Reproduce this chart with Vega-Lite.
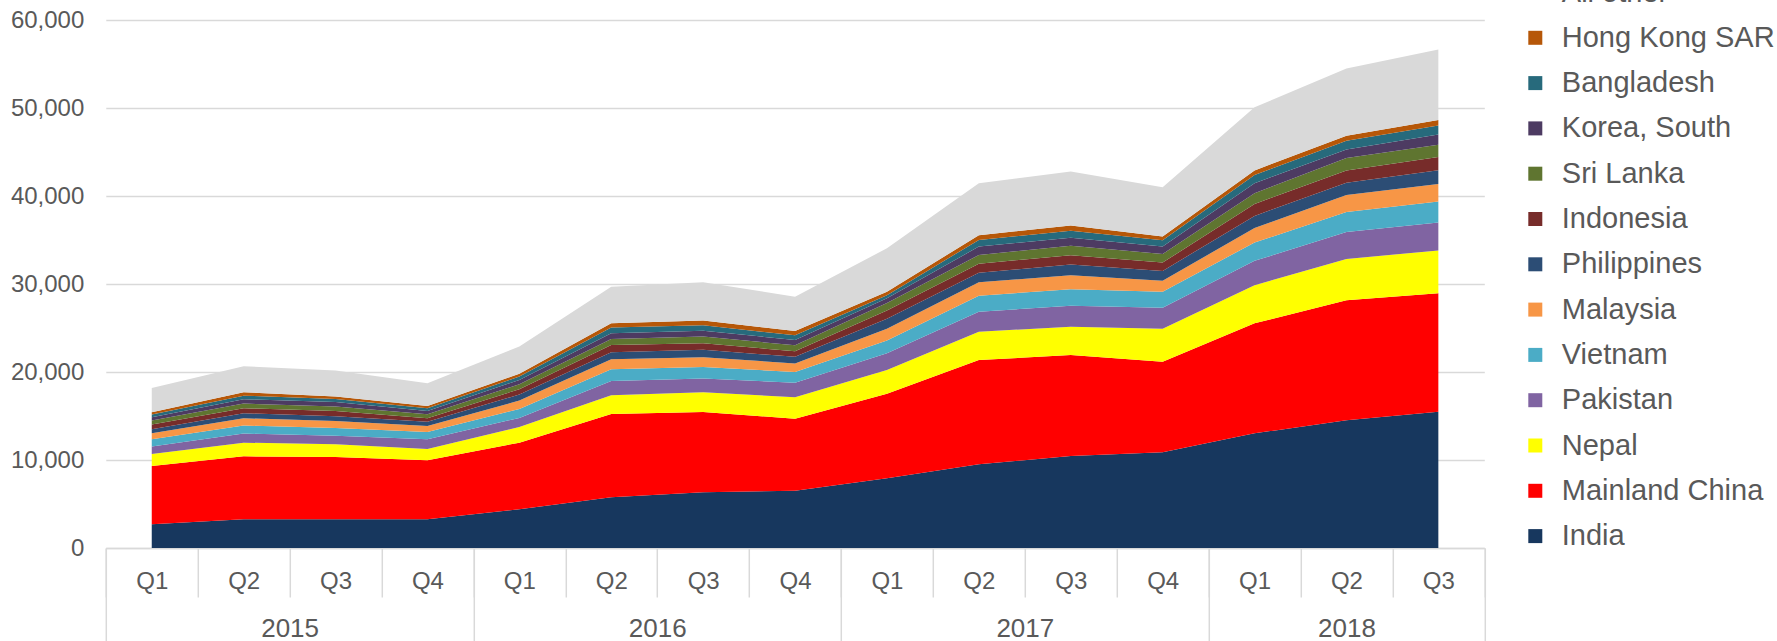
{
  "$schema": "https://vega.github.io/schema/vega-lite/v6.json",
  "width": 1378.5,
  "height": 528,
  "autosize": {"type": "none"},
  "padding": {"left": 105.8, "top": 20, "right": 292.7, "bottom": 93},
  "background": "white",
  "config": {"view": {"stroke": null}, "font": "Liberation Sans"},
  "datasets": {
    "arrivals": [
      {"year":2015,"quarter":1,"country":"India","value":2700},
      {"year":2015,"quarter":2,"country":"India","value":3260},
      {"year":2015,"quarter":3,"country":"India","value":3270},
      {"year":2015,"quarter":4,"country":"India","value":3260},
      {"year":2016,"quarter":1,"country":"India","value":4400},
      {"year":2016,"quarter":2,"country":"India","value":5760},
      {"year":2016,"quarter":3,"country":"India","value":6330},
      {"year":2016,"quarter":4,"country":"India","value":6510},
      {"year":2017,"quarter":1,"country":"India","value":7930},
      {"year":2017,"quarter":2,"country":"India","value":9510},
      {"year":2017,"quarter":3,"country":"India","value":10450},
      {"year":2017,"quarter":4,"country":"India","value":10870},
      {"year":2018,"quarter":1,"country":"India","value":13030},
      {"year":2018,"quarter":2,"country":"India","value":14510},
      {"year":2018,"quarter":3,"country":"India","value":15480},
      {"year":2015,"quarter":1,"country":"Mainland China","value":6620},
      {"year":2015,"quarter":2,"country":"Mainland China","value":7160},
      {"year":2015,"quarter":3,"country":"Mainland China","value":7070},
      {"year":2015,"quarter":4,"country":"Mainland China","value":6700},
      {"year":2016,"quarter":1,"country":"Mainland China","value":7570},
      {"year":2016,"quarter":2,"country":"Mainland China","value":9460},
      {"year":2016,"quarter":3,"country":"Mainland China","value":9130},
      {"year":2016,"quarter":4,"country":"Mainland China","value":8180},
      {"year":2017,"quarter":1,"country":"Mainland China","value":9600},
      {"year":2017,"quarter":2,"country":"Mainland China","value":11850},
      {"year":2017,"quarter":3,"country":"Mainland China","value":11480},
      {"year":2017,"quarter":4,"country":"Mainland China","value":10300},
      {"year":2018,"quarter":1,"country":"Mainland China","value":12500},
      {"year":2018,"quarter":2,"country":"Mainland China","value":13650},
      {"year":2018,"quarter":3,"country":"Mainland China","value":13470},
      {"year":2015,"quarter":1,"country":"Nepal","value":1370},
      {"year":2015,"quarter":2,"country":"Nepal","value":1550},
      {"year":2015,"quarter":3,"country":"Nepal","value":1440},
      {"year":2015,"quarter":4,"country":"Nepal","value":1290},
      {"year":2016,"quarter":1,"country":"Nepal","value":1780},
      {"year":2016,"quarter":2,"country":"Nepal","value":2130},
      {"year":2016,"quarter":3,"country":"Nepal","value":2240},
      {"year":2016,"quarter":4,"country":"Nepal","value":2430},
      {"year":2017,"quarter":1,"country":"Nepal","value":2690},
      {"year":2017,"quarter":2,"country":"Nepal","value":3220},
      {"year":2017,"quarter":3,"country":"Nepal","value":3220},
      {"year":2017,"quarter":4,"country":"Nepal","value":3750},
      {"year":2018,"quarter":1,"country":"Nepal","value":4330},
      {"year":2018,"quarter":2,"country":"Nepal","value":4690},
      {"year":2018,"quarter":3,"country":"Nepal","value":4860},
      {"year":2015,"quarter":1,"country":"Pakistan","value":830},
      {"year":2015,"quarter":2,"country":"Pakistan","value":1030},
      {"year":2015,"quarter":3,"country":"Pakistan","value":980},
      {"year":2015,"quarter":4,"country":"Pakistan","value":1100},
      {"year":2016,"quarter":1,"country":"Pakistan","value":1030},
      {"year":2016,"quarter":2,"country":"Pakistan","value":1630},
      {"year":2016,"quarter":3,"country":"Pakistan","value":1550},
      {"year":2016,"quarter":4,"country":"Pakistan","value":1660},
      {"year":2017,"quarter":1,"country":"Pakistan","value":1910},
      {"year":2017,"quarter":2,"country":"Pakistan","value":2270},
      {"year":2017,"quarter":3,"country":"Pakistan","value":2390},
      {"year":2017,"quarter":4,"country":"Pakistan","value":2390},
      {"year":2018,"quarter":1,"country":"Pakistan","value":2770},
      {"year":2018,"quarter":2,"country":"Pakistan","value":3060},
      {"year":2018,"quarter":3,"country":"Pakistan","value":3170},
      {"year":2015,"quarter":1,"country":"Vietnam","value":840},
      {"year":2015,"quarter":2,"country":"Vietnam","value":910},
      {"year":2015,"quarter":3,"country":"Vietnam","value":870},
      {"year":2015,"quarter":4,"country":"Vietnam","value":840},
      {"year":2016,"quarter":1,"country":"Vietnam","value":1020},
      {"year":2016,"quarter":2,"country":"Vietnam","value":1330},
      {"year":2016,"quarter":3,"country":"Vietnam","value":1330},
      {"year":2016,"quarter":4,"country":"Vietnam","value":1210},
      {"year":2017,"quarter":1,"country":"Vietnam","value":1460},
      {"year":2017,"quarter":2,"country":"Vietnam","value":1820},
      {"year":2017,"quarter":3,"country":"Vietnam","value":1870},
      {"year":2017,"quarter":4,"country":"Vietnam","value":1820},
      {"year":2018,"quarter":1,"country":"Vietnam","value":2080},
      {"year":2018,"quarter":2,"country":"Vietnam","value":2260},
      {"year":2018,"quarter":3,"country":"Vietnam","value":2390},
      {"year":2015,"quarter":1,"country":"Malaysia","value":690},
      {"year":2015,"quarter":2,"country":"Malaysia","value":830},
      {"year":2015,"quarter":3,"country":"Malaysia","value":800},
      {"year":2015,"quarter":4,"country":"Malaysia","value":680},
      {"year":2016,"quarter":1,"country":"Malaysia","value":950},
      {"year":2016,"quarter":2,"country":"Malaysia","value":1140},
      {"year":2016,"quarter":3,"country":"Malaysia","value":1110},
      {"year":2016,"quarter":4,"country":"Malaysia","value":990},
      {"year":2017,"quarter":1,"country":"Malaysia","value":1330},
      {"year":2017,"quarter":2,"country":"Malaysia","value":1520},
      {"year":2017,"quarter":3,"country":"Malaysia","value":1590},
      {"year":2017,"quarter":4,"country":"Malaysia","value":1250},
      {"year":2018,"quarter":1,"country":"Malaysia","value":1640},
      {"year":2018,"quarter":2,"country":"Malaysia","value":1950},
      {"year":2018,"quarter":3,"country":"Malaysia","value":1990},
      {"year":2015,"quarter":1,"country":"Philippines","value":450},
      {"year":2015,"quarter":2,"country":"Philippines","value":570},
      {"year":2015,"quarter":3,"country":"Philippines","value":530},
      {"year":2015,"quarter":4,"country":"Philippines","value":490},
      {"year":2016,"quarter":1,"country":"Philippines","value":680},
      {"year":2016,"quarter":2,"country":"Philippines","value":800},
      {"year":2016,"quarter":3,"country":"Philippines","value":830},
      {"year":2016,"quarter":4,"country":"Philippines","value":750},
      {"year":2017,"quarter":1,"country":"Philippines","value":1140},
      {"year":2017,"quarter":2,"country":"Philippines","value":1100},
      {"year":2017,"quarter":3,"country":"Philippines","value":1210},
      {"year":2017,"quarter":4,"country":"Philippines","value":1110},
      {"year":2018,"quarter":1,"country":"Philippines","value":1390},
      {"year":2018,"quarter":2,"country":"Philippines","value":1380},
      {"year":2018,"quarter":3,"country":"Philippines","value":1570},
      {"year":2015,"quarter":1,"country":"Indonesia","value":530},
      {"year":2015,"quarter":2,"country":"Indonesia","value":570},
      {"year":2015,"quarter":3,"country":"Indonesia","value":600},
      {"year":2015,"quarter":4,"country":"Indonesia","value":380},
      {"year":2016,"quarter":1,"country":"Indonesia","value":610},
      {"year":2016,"quarter":2,"country":"Indonesia","value":830},
      {"year":2016,"quarter":3,"country":"Indonesia","value":760},
      {"year":2016,"quarter":4,"country":"Indonesia","value":620},
      {"year":2017,"quarter":1,"country":"Indonesia","value":930},
      {"year":2017,"quarter":2,"country":"Indonesia","value":1020},
      {"year":2017,"quarter":3,"country":"Indonesia","value":1070},
      {"year":2017,"quarter":4,"country":"Indonesia","value":940},
      {"year":2018,"quarter":1,"country":"Indonesia","value":1350},
      {"year":2018,"quarter":2,"country":"Indonesia","value":1410},
      {"year":2018,"quarter":3,"country":"Indonesia","value":1490},
      {"year":2015,"quarter":1,"country":"Sri Lanka","value":450},
      {"year":2015,"quarter":2,"country":"Sri Lanka","value":530},
      {"year":2015,"quarter":3,"country":"Sri Lanka","value":530},
      {"year":2015,"quarter":4,"country":"Sri Lanka","value":460},
      {"year":2016,"quarter":1,"country":"Sri Lanka","value":570},
      {"year":2016,"quarter":2,"country":"Sri Lanka","value":680},
      {"year":2016,"quarter":3,"country":"Sri Lanka","value":760},
      {"year":2016,"quarter":4,"country":"Sri Lanka","value":680},
      {"year":2017,"quarter":1,"country":"Sri Lanka","value":840},
      {"year":2017,"quarter":2,"country":"Sri Lanka","value":990},
      {"year":2017,"quarter":3,"country":"Sri Lanka","value":1060},
      {"year":2017,"quarter":4,"country":"Sri Lanka","value":990},
      {"year":2018,"quarter":1,"country":"Sri Lanka","value":1220},
      {"year":2018,"quarter":2,"country":"Sri Lanka","value":1410},
      {"year":2018,"quarter":3,"country":"Sri Lanka","value":1400},
      {"year":2015,"quarter":1,"country":"Korea, South","value":390},
      {"year":2015,"quarter":2,"country":"Korea, South","value":490},
      {"year":2015,"quarter":3,"country":"Korea, South","value":500},
      {"year":2015,"quarter":4,"country":"Korea, South","value":370},
      {"year":2016,"quarter":1,"country":"Korea, South","value":490},
      {"year":2016,"quarter":2,"country":"Korea, South","value":650},
      {"year":2016,"quarter":3,"country":"Korea, South","value":650},
      {"year":2016,"quarter":4,"country":"Korea, South","value":610},
      {"year":2017,"quarter":1,"country":"Korea, South","value":550},
      {"year":2017,"quarter":2,"country":"Korea, South","value":950},
      {"year":2017,"quarter":3,"country":"Korea, South","value":910},
      {"year":2017,"quarter":4,"country":"Korea, South","value":830},
      {"year":2018,"quarter":1,"country":"Korea, South","value":1150},
      {"year":2018,"quarter":2,"country":"Korea, South","value":970},
      {"year":2018,"quarter":3,"country":"Korea, South","value":1170},
      {"year":2015,"quarter":1,"country":"Bangladesh","value":300},
      {"year":2015,"quarter":2,"country":"Bangladesh","value":410},
      {"year":2015,"quarter":3,"country":"Bangladesh","value":340},
      {"year":2015,"quarter":4,"country":"Bangladesh","value":310},
      {"year":2016,"quarter":1,"country":"Bangladesh","value":380},
      {"year":2016,"quarter":2,"country":"Bangladesh","value":640},
      {"year":2016,"quarter":3,"country":"Bangladesh","value":610},
      {"year":2016,"quarter":4,"country":"Bangladesh","value":530},
      {"year":2017,"quarter":1,"country":"Bangladesh","value":350},
      {"year":2017,"quarter":2,"country":"Bangladesh","value":760},
      {"year":2017,"quarter":3,"country":"Bangladesh","value":790},
      {"year":2017,"quarter":4,"country":"Bangladesh","value":730},
      {"year":2018,"quarter":1,"country":"Bangladesh","value":920},
      {"year":2018,"quarter":2,"country":"Bangladesh","value":980},
      {"year":2018,"quarter":3,"country":"Bangladesh","value":1030},
      {"year":2015,"quarter":1,"country":"Hong Kong SAR","value":270},
      {"year":2015,"quarter":2,"country":"Hong Kong SAR","value":380},
      {"year":2015,"quarter":3,"country":"Hong Kong SAR","value":300},
      {"year":2015,"quarter":4,"country":"Hong Kong SAR","value":260},
      {"year":2016,"quarter":1,"country":"Hong Kong SAR","value":310},
      {"year":2016,"quarter":2,"country":"Hong Kong SAR","value":500},
      {"year":2016,"quarter":3,"country":"Hong Kong SAR","value":540},
      {"year":2016,"quarter":4,"country":"Hong Kong SAR","value":490},
      {"year":2017,"quarter":1,"country":"Hong Kong SAR","value":390},
      {"year":2017,"quarter":2,"country":"Hong Kong SAR","value":530},
      {"year":2017,"quarter":3,"country":"Hong Kong SAR","value":610},
      {"year":2017,"quarter":4,"country":"Hong Kong SAR","value":410},
      {"year":2018,"quarter":1,"country":"Hong Kong SAR","value":530},
      {"year":2018,"quarter":2,"country":"Hong Kong SAR","value":590},
      {"year":2018,"quarter":3,"country":"Hong Kong SAR","value":620},
      {"year":2015,"quarter":1,"country":"All other","value":2730},
      {"year":2015,"quarter":2,"country":"All other","value":2960},
      {"year":2015,"quarter":3,"country":"All other","value":2950},
      {"year":2015,"quarter":4,"country":"All other","value":2580},
      {"year":2016,"quarter":1,"country":"All other","value":3100},
      {"year":2016,"quarter":2,"country":"All other","value":4130},
      {"year":2016,"quarter":3,"country":"All other","value":4350},
      {"year":2016,"quarter":4,"country":"All other","value":3900},
      {"year":2017,"quarter":1,"country":"All other","value":4940},
      {"year":2017,"quarter":2,"country":"All other","value":5910},
      {"year":2017,"quarter":3,"country":"All other","value":6140},
      {"year":2017,"quarter":4,"country":"All other","value":5610},
      {"year":2018,"quarter":1,"country":"All other","value":7170},
      {"year":2018,"quarter":2,"country":"All other","value":7620},
      {"year":2018,"quarter":3,"country":"All other","value":8020}
    ]
  },
  "data": {"name": "arrivals"},
  "transform": [
    {"calculate": "(datum.year - 2015) * 4 + datum.quarter - 1", "as": "idx"},
    {"calculate": "indexof(['All other','Hong Kong SAR','Bangladesh','Korea, South','Sri Lanka','Indonesia','Philippines','Malaysia','Vietnam','Pakistan','Nepal','Mainland China','India'], datum.country)", "as": "rank"}
  ],
  "layer": [
    {
      "mark": {"type": "area", "opacity": 1},
      "encoding": {
        "x": {
          "field": "idx", "type": "quantitative",
          "scale": {"domain": [-0.5, 14.5], "nice": false, "zero": false},
          "axis": {
            "orient": "bottom", "title": null, "values": [0,1,2,3,4,5,6,7,8,9,10,11,12,13,14],
            "labelExpr": "'Q' + (datum.value % 4 + 1)",
            "ticks": false, "grid": false, "domain": true,
            "domainColor": "#d9d9d9", "domainWidth": 1.5,
            "labelFontSize": 24, "labelColor": "#595959", "labelPadding": 21,
            "labelFlush": false, "labelOverlap": false, "labelBound": false
          }
        },
        "y": {
          "field": "value", "type": "quantitative", "stack": "zero",
          "scale": {"domain": [0, 60000], "nice": false},
          "axis": {
            "title": null, "values": [0,10000,20000,30000,40000,50000,60000],
            "format": ",.0f", "ticks": false, "domain": false,
            "grid": true, "gridColor": "#d9d9d9", "gridWidth": 1.5,
            "labelFontSize": 24, "labelColor": "#595959", "labelPadding": 22
          }
        },
        "color": {
          "field": "country", "type": "nominal",
          "scale": {
            "domain": ["All other","Hong Kong SAR","Bangladesh","Korea, South","Sri Lanka","Indonesia","Philippines","Malaysia","Vietnam","Pakistan","Nepal","Mainland China","India"],
            "range": ["#D9D9D9","#B65708","#276A7C","#4D3B62","#5F7530","#772C2A","#2C4D75","#F79646","#4BACC6","#8064A2","#FFFF00","#FF0000","#17375E"]
          },
          "legend": {
            "orient": "none", "legendX": 1415, "legendY": -42, "direction": "vertical",
            "title": null, "symbolType": "square", "symbolSize": 196, "symbolStrokeWidth": 0,
            "symbolOpacity": 1,
            "labelFontSize": 29, "labelColor": "#595959", "labelOffset": 12,
            "rowPadding": 15.3, "labelLimit": 400, "padding": 0
          }
        },
        "order": {"field": "rank", "type": "quantitative", "sort": "descending"}
      }
    },
    {
      "mark": {"type": "point", "opacity": 0},
      "encoding": {
        "x": {
          "field": "idx", "type": "quantitative",
          "scale": {"domain": [-0.5, 14.5], "nice": false, "zero": false},
          "axis": {
            "orient": "bottom", "title": null,
            "values": [-0.5,0.5,1.5,2.5,3.5,4.5,5.5,6.5,7.5,8.5,9.5,10.5,11.5,12.5,13.5,14.5],
            "labels": false, "domain": false, "grid": false,
            "ticks": true, "tickSize": 49, "tickColor": "#d9d9d9", "tickWidth": 1.5
          }
        }
      }
    },
    {
      "mark": {"type": "point", "opacity": 0},
      "encoding": {
        "x": {
          "field": "idx", "type": "quantitative",
          "scale": {"domain": [-0.5, 14.5], "nice": false, "zero": false},
          "axis": {
            "orient": "bottom", "title": null,
            "values": [-0.5,3.5,7.5,11.5,14.5],
            "labels": false, "domain": false, "grid": false,
            "ticks": true, "tickSize": 95, "tickColor": "#d9d9d9", "tickWidth": 1.5
          }
        }
      }
    },
    {
      "mark": {"type": "point", "opacity": 0},
      "encoding": {
        "x": {
          "field": "idx", "type": "quantitative",
          "scale": {"domain": [-0.5, 14.5], "nice": false, "zero": false},
          "axis": {
            "orient": "bottom", "title": null, "values": [1.5, 5.5, 9.5, 13],
            "labelExpr": "datum.value < 4 ? '2015' : datum.value < 8 ? '2016' : datum.value < 12 ? '2017' : '2018'",
            "ticks": false, "domain": false, "grid": false,
            "labelFontSize": 26, "labelColor": "#595959", "labelPadding": 67,
            "labelFlush": false, "labelOverlap": false, "labelBound": false
          }
        }
      }
    }
  ],
  "resolve": {"scale": {"x": "independent"}, "axis": {"x": "independent"}}
}
